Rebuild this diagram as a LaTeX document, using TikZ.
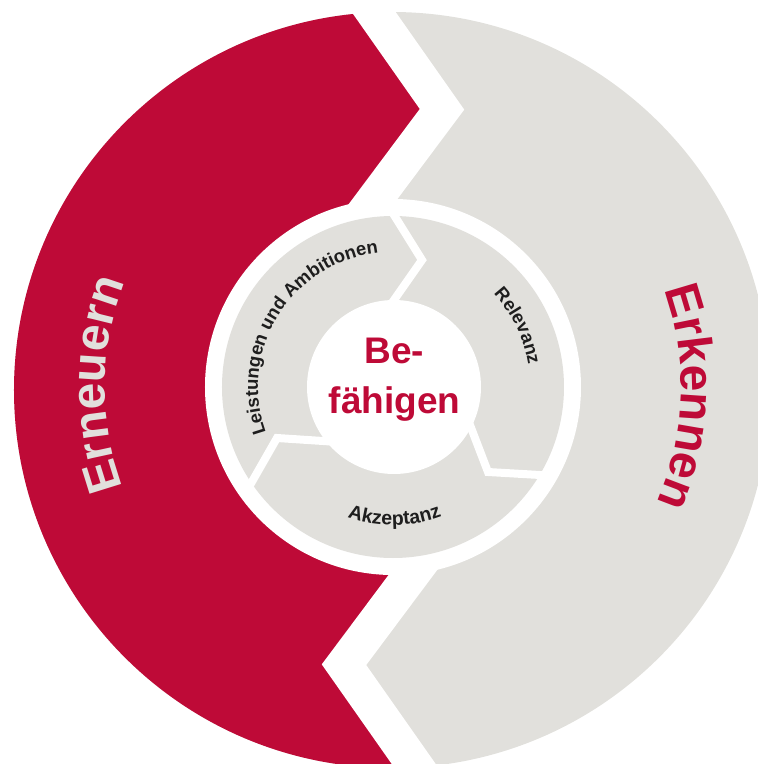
\documentclass[tikz,border=0pt]{standalone}
\usepackage{fontspec}
\setmainfont{Liberation Sans}
\usetikzlibrary{calc,decorations.text}

\definecolor{brandred}{RGB}{190,10,55}
\definecolor{ringgray}{RGB}{225,224,220}
\definecolor{inktext}{RGB}{30,30,30}

\newcommand{\bigword}{\fontsize{48}{52}\selectfont\bfseries}
\newcommand{\smallword}{\fontsize{18.5}{20}\selectfont\bfseries}
\newcommand{\smallwordx}{\fontsize{19.5}{21}\selectfont\bfseries}

\begin{document}
\begin{tikzpicture}[x=1pt,y=1pt,
  bandgap/.style={white, line width=36pt, line join=miter, miter limit=10},
  ringgap/.style={white, line width=8pt, line join=miter, miter limit=10},
  arclabel/.style={decorate, decoration={text along path, text align=center, text={#1}}}
]
\useasboundingbox (-393,-377) rectangle (365,387);
\clip (-393,-377) rectangle (365,387);

% outer ring: grey base, red left half
\fill[ringgray] (-1,-3) circle[radius=378];
\coordinate (topout) at (-19.7,375.5);
\coordinate (toptip) at (49,277.7);
\coordinate (topin)  at (-19.5,186);
\coordinate (botout) at (19.7,-375.5);
\coordinate (bottip) at (-49,-277.7);
\coordinate (botin)  at (19.5,-186);
\coordinate (topoutx) at ($(toptip)!1.35!(topout)$);
\coordinate (topinx)  at ($(toptip)!1.3!(topin)$);
\coordinate (botoutx) at ($(bottip)!1.35!(botout)$);
\coordinate (botinx)  at ($(bottip)!1.3!(botin)$);
\begin{scope}
  \clip (-1,-3) circle[radius=378];
  \fill[brandred] (topoutx) -- (toptip) -- (topinx) -- (botinx) -- (bottip) -- (botoutx)
    -- (-450,-450) -- (-450,450) -- cycle;
\end{scope}
\draw[bandgap] (topoutx) -- (toptip) -- (topinx);
\draw[bandgap] (botoutx) -- (bottip) -- (botinx);

% white gap and inner ring
\fill[white] (0,0) circle[radius=188];
\fill[ringgray] (0,0) circle[radius=171];

\coordinate (aout) at (1,172);
\coordinate (atip) at (29,127);
\coordinate (ain)  at (1,87);
\coordinate (bout) at (147,-88);
\coordinate (btip) at (95,-85);
\coordinate (bin)  at (77,-38);
\coordinate (cout) at (-140,-93);
\coordinate (ctip) at (-116,-51);
\coordinate (cin)  at (-70,-54);
\draw[ringgap] ($(atip)!1.2!(aout)$) -- (atip) -- ($(atip)!1.4!(ain)$);
\draw[ringgap] ($(btip)!1.2!(bout)$) -- (btip) -- ($(btip)!1.4!(bin)$);
\draw[ringgap] ($(ctip)!1.2!(cout)$) -- (ctip) -- ($(ctip)!1.4!(cin)$);

% centre disk
\fill[white] (1,0) circle[radius=87];
\node[anchor=base, text=brandred, font=\fontsize{37}{44}\selectfont\bfseries, inner sep=0] (be) at (1.5,24) {Be-};
\node[anchor=base, text=brandred, font=\fontsize{37}{44}\selectfont\bfseries, inner sep=0] (faehigen) at (1.5,-26) {fähigen};

% ring words
\path[arclabel={|\bigword\color{ringgray}|Erneuern}]
  (229.5:288) arc[start angle=229.5, end angle=129.5, radius=288];
\path[arclabel={|\bigword\color{brandred}|Erkennen}]
  (48:288) arc[start angle=48, end angle=-52, radius=288];

\path[arclabel={|\smallword\color{inktext}|Leistungen und Ambitionen}]
  (238:135) arc[start angle=238, end angle=58, radius=135];
\path[arclabel={|\smallword\color{inktext}|Relevanz}]
  (86:137) arc[start angle=86, end angle=-34, radius=137];
\path[arclabel={|\smallwordx\color{inktext}|Akzeptanz}]
  (210.7:138) arc[start angle=210.7, end angle=330.7, radius=138];
\end{tikzpicture}
\end{document}
